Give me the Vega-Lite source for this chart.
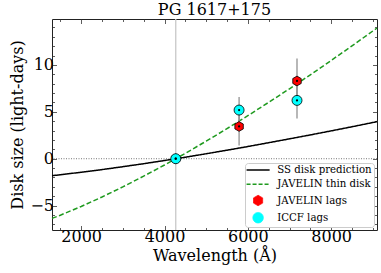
{
  "$schema": "https://vega.github.io/schema/vega-lite/v6.json",
  "autosize": "none",
  "width": 325,
  "height": 211,
  "padding": {"left": 52, "top": 19, "right": 4, "bottom": 43},
  "title": {"text": "PG 1617+175", "font": "DejaVu Serif", "fontSize": 16, "fontWeight": "normal", "color": "black", "offset": 0},
  "config": {
    "view": {"stroke": "#222", "strokeWidth": 1},
    "axis": {"grid": false, "domain": false, "labelFont": "DejaVu Serif", "labelFontSize": 16, "labelColor": "black", "titleFont": "DejaVu Serif", "titleFontSize": 16, "titleFontWeight": "normal", "titleColor": "black", "tickColor": "#333", "tickWidth": 0.8}
  },
  "datasets": {
    "curves": [
      {"wl": 1300, "val": -1.81, "series": "SS disk prediction"},
      {"wl": 1500, "val": -1.71, "series": "SS disk prediction"},
      {"wl": 2000, "val": -1.44, "series": "SS disk prediction"},
      {"wl": 2500, "val": -1.16, "series": "SS disk prediction"},
      {"wl": 3000, "val": -0.85, "series": "SS disk prediction"},
      {"wl": 3500, "val": -0.53, "series": "SS disk prediction"},
      {"wl": 4000, "val": -0.19, "series": "SS disk prediction"},
      {"wl": 4270, "val": 0, "series": "SS disk prediction"},
      {"wl": 4500, "val": 0.16, "series": "SS disk prediction"},
      {"wl": 5000, "val": 0.53, "series": "SS disk prediction"},
      {"wl": 5500, "val": 0.91, "series": "SS disk prediction"},
      {"wl": 6000, "val": 1.30, "series": "SS disk prediction"},
      {"wl": 6500, "val": 1.71, "series": "SS disk prediction"},
      {"wl": 7000, "val": 2.12, "series": "SS disk prediction"},
      {"wl": 7500, "val": 2.54, "series": "SS disk prediction"},
      {"wl": 8000, "val": 2.97, "series": "SS disk prediction"},
      {"wl": 8500, "val": 3.41, "series": "SS disk prediction"},
      {"wl": 9000, "val": 3.86, "series": "SS disk prediction"},
      {"wl": 9100, "val": 3.96, "series": "SS disk prediction"},
      {"wl": 1300, "val": -6.36, "series": "JAVELIN thin disk"},
      {"wl": 1500, "val": -6.02, "series": "JAVELIN thin disk"},
      {"wl": 2000, "val": -5.09, "series": "JAVELIN thin disk"},
      {"wl": 2500, "val": -4.08, "series": "JAVELIN thin disk"},
      {"wl": 3000, "val": -3.00, "series": "JAVELIN thin disk"},
      {"wl": 3500, "val": -1.86, "series": "JAVELIN thin disk"},
      {"wl": 4000, "val": -0.67, "series": "JAVELIN thin disk"},
      {"wl": 4270, "val": 0, "series": "JAVELIN thin disk"},
      {"wl": 4500, "val": 0.58, "series": "JAVELIN thin disk"},
      {"wl": 5000, "val": 1.87, "series": "JAVELIN thin disk"},
      {"wl": 5500, "val": 3.21, "series": "JAVELIN thin disk"},
      {"wl": 6000, "val": 4.59, "series": "JAVELIN thin disk"},
      {"wl": 6500, "val": 6.01, "series": "JAVELIN thin disk"},
      {"wl": 7000, "val": 7.46, "series": "JAVELIN thin disk"},
      {"wl": 7500, "val": 8.95, "series": "JAVELIN thin disk"},
      {"wl": 8000, "val": 10.48, "series": "JAVELIN thin disk"},
      {"wl": 8500, "val": 12.03, "series": "JAVELIN thin disk"},
      {"wl": 9000, "val": 13.62, "series": "JAVELIN thin disk"},
      {"wl": 9100, "val": 13.94, "series": "JAVELIN thin disk"}
    ],
    "lags": [
      {"wl": 4270, "val": 0, "lo": 0, "hi": 0, "series": "JAVELIN lags"},
      {"wl": 5790, "val": 3.44, "lo": 1.41, "hi": 5.4, "series": "JAVELIN lags"},
      {"wl": 7180, "val": 8.29, "lo": 5.9, "hi": 10.7, "series": "JAVELIN lags"},
      {"wl": 4270, "val": 0, "lo": 0, "hi": 0, "series": "ICCF lags"},
      {"wl": 5790, "val": 5.19, "lo": 3.8, "hi": 6.58, "series": "ICCF lags"},
      {"wl": 7180, "val": 6.22, "lo": 4.28, "hi": 8.1, "series": "ICCF lags"}
    ],
    "refx": [{"wl": 4270}],
    "refy": [{"val": 0}]
  },
  "layer": [
    {
      "data": {"name": "refx"},
      "mark": {"type": "rule", "color": "#c8c8c8", "strokeWidth": 1.3},
      "encoding": {
        "x": {"field": "wl", "type": "quantitative", "scale": {"domain": [1300, 9100], "nice": false, "zero": false}, "axis": null}
      }
    },
    {
      "data": {"name": "refy"},
      "mark": {"type": "rule", "color": "#777777", "strokeWidth": 1, "strokeDash": [1, 1.5]},
      "encoding": {
        "y": {"field": "val", "type": "quantitative", "scale": {"domain": [-7.6, 14.9], "nice": false, "zero": false}, "axis": null}
      }
    },
    {
      "data": {"name": "curves"},
      "mark": {"type": "line", "strokeWidth": 1.5},
      "encoding": {
        "x": {"field": "wl", "type": "quantitative", "scale": {"domain": [1300, 9100], "nice": false, "zero": false},
              "axis": {"orient": "bottom", "values": [2000, 4000, 6000, 8000], "format": "d", "tickSize": -4.5, "labelPadding": 3, "title": "Wavelength (Å)", "titlePadding": 3}},
        "y": {"field": "val", "type": "quantitative", "scale": {"domain": [-7.6, 14.9], "nice": false, "zero": false},
              "axis": {"orient": "left", "values": [-5, 0, 5, 10], "tickSize": -4.5, "labelPadding": 3, "title": "Disk size (light-days)", "titlePadding": 4}},
        "color": {"field": "series", "type": "nominal",
                  "scale": {"domain": ["SS disk prediction", "JAVELIN thin disk", "JAVELIN lags", "ICCF lags"], "range": ["black", "#1f9a1f", "#ff0000", "#00ffff"]},
                  "legend": {"title": null, "orient": "bottom-right", "offset": 3, "padding": 2, "symbolOffset": 6, "symbolSize": 110, "labelOffset": 14, "rowPadding": 3.2,
                             "labelFont": "DejaVu Serif", "labelFontSize": 10.2, "labelColor": "black", "fillColor": "white", "strokeColor": "#cccccc", "cornerRadius": 3,
                             "encode": {"symbols": {"update": {
                               "shape": {"signal": "datum.value == 'JAVELIN lags' ? 'M0,-1L0.866,-0.5L0.866,0.5L0,1L-0.866,0.5L-0.866,-0.5Z' : datum.value == 'ICCF lags' ? 'circle' : 'M-2.2,0L2.2,0'"},
                               "fill": {"signal": "datum.value == 'JAVELIN lags' ? '#ff0000' : datum.value == 'ICCF lags' ? '#00ffff' : 'transparent'"},
                               "stroke": {"signal": "datum.value == 'JAVELIN thin disk' ? '#1f9a1f' : 'black'"},
                               "strokeDash": {"signal": "datum.value == 'JAVELIN thin disk' ? [4, 2] : [1, 0]"},
                               "strokeWidth": {"signal": "datum.value == 'JAVELIN lags' || datum.value == 'ICCF lags' ? 0.8 : 1.5"},
                               "size": {"value": 110},
                               "opacity": {"value": 1}
                             }}}}},
        "strokeDash": {"field": "series", "type": "nominal", "scale": {"domain": ["SS disk prediction", "JAVELIN thin disk"], "range": [[1, 0], [5, 2.5]]}, "legend": null}
      }
    },
    {
      "data": {"name": "lags"},
      "mark": {"type": "rule", "color": "#888888", "strokeWidth": 1.2},
      "encoding": {
        "x": {"field": "wl", "type": "quantitative", "scale": {"domain": [1300, 9100], "nice": false, "zero": false},
              "axis": {"orient": "bottom", "values": [1500, 2500, 3000, 3500, 4500, 5000, 5500, 6500, 7000, 7500, 8500, 9000], "tickSize": -2.5, "labels": false, "title": null}},
        "y": {"field": "lo", "type": "quantitative", "scale": {"domain": [-7.6, 14.9], "nice": false, "zero": false},
              "axis": {"orient": "left", "values": [-7, -6, -4, -3, -2, -1, 1, 2, 3, 4, 6, 7, 8, 9, 11, 12, 13, 14], "tickSize": -2.5, "labels": false, "title": null}},
        "y2": {"field": "hi"}
      }
    },
    {
      "data": {"name": "lags"},
      "transform": [{"filter": "datum.series == 'JAVELIN lags'"}],
      "mark": {"type": "point", "filled": true, "opacity": 1, "shape": "M0,-1L0.866,-0.5L0.866,0.5L0,1L-0.866,0.5L-0.866,-0.5Z", "size": 95, "stroke": "black", "strokeWidth": 0.8},
      "encoding": {
        "x": {"field": "wl", "type": "quantitative", "scale": {"domain": [1300, 9100], "nice": false, "zero": false},
              "axis": {"orient": "top", "values": [2000, 4000, 6000, 8000], "tickSize": -4.5, "labels": false, "title": null}},
        "y": {"field": "val", "type": "quantitative", "scale": {"domain": [-7.6, 14.9], "nice": false, "zero": false},
              "axis": {"orient": "right", "values": [-5, 0, 5, 10], "tickSize": -4.5, "labels": false, "title": null}},
        "color": {"field": "series", "type": "nominal", "scale": {"domain": ["SS disk prediction", "JAVELIN thin disk", "JAVELIN lags", "ICCF lags"], "range": ["black", "#1f9a1f", "#ff0000", "#00ffff"]}}
      }
    },
    {
      "data": {"name": "lags"},
      "transform": [{"filter": "datum.series == 'ICCF lags'"}],
      "mark": {"type": "point", "filled": true, "opacity": 1, "shape": "circle", "size": 100, "stroke": "black", "strokeWidth": 0.8},
      "encoding": {
        "x": {"field": "wl", "type": "quantitative", "scale": {"domain": [1300, 9100], "nice": false, "zero": false},
              "axis": {"orient": "top", "values": [1500, 2500, 3000, 3500, 4500, 5000, 5500, 6500, 7000, 7500, 8500, 9000], "tickSize": -2.5, "labels": false, "title": null}},
        "y": {"field": "val", "type": "quantitative", "scale": {"domain": [-7.6, 14.9], "nice": false, "zero": false},
              "axis": {"orient": "right", "values": [-7, -6, -4, -3, -2, -1, 1, 2, 3, 4, 6, 7, 8, 9, 11, 12, 13, 14], "tickSize": -2.5, "labels": false, "title": null}},
        "color": {"field": "series", "type": "nominal", "scale": {"domain": ["SS disk prediction", "JAVELIN thin disk", "JAVELIN lags", "ICCF lags"], "range": ["black", "#1f9a1f", "#ff0000", "#00ffff"]}}
      }
    },
    {
      "data": {"name": "lags"},
      "mark": {"type": "point", "filled": true, "opacity": 1, "shape": "circle", "size": 5, "color": "black"},
      "encoding": {
        "x": {"field": "wl", "type": "quantitative", "scale": {"domain": [1300, 9100], "nice": false, "zero": false}, "axis": null},
        "y": {"field": "val", "type": "quantitative", "scale": {"domain": [-7.6, 14.9], "nice": false, "zero": false}, "axis": null}
      }
    }
  ],
  "resolve": {"axis": {"x": "independent", "y": "independent"}}
}
